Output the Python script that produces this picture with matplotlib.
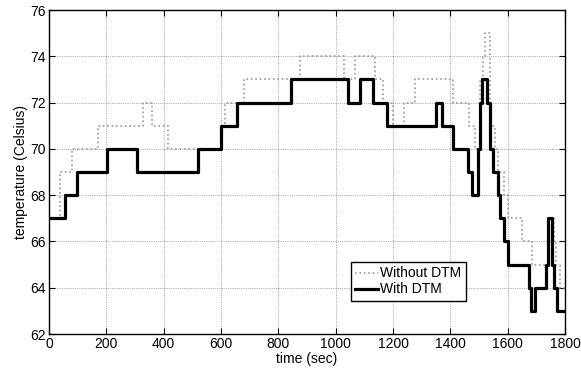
import numpy as np
import matplotlib.pyplot as plt

plt.rcParams['font.family'] = ['Liberation Sans', 'DejaVu Sans']

# step change times (sec) and temperatures (Celsius)
t_without = [0, 38, 79, 172, 329, 360, 414, 600, 614, 680, 875, 1029, 1069, 1137,
             1166, 1201, 1238, 1277, 1410, 1465, 1486, 1505, 1515, 1522, 1538, 1544,
             1556, 1567, 1587, 1602, 1651, 1684, 1742, 1760, 1768, 1782, 1800]
v_without = [67, 69, 70, 71, 72, 71, 70, 71, 72, 73, 74, 73, 74, 73,
             72, 71, 72, 73, 72, 71, 70, 73, 74, 75, 71, 71,
             70, 69, 68, 67, 66, 65, 67, 66, 65, 64, 64]

t_with = [0, 56, 97, 201, 306, 519, 601, 656, 845, 1044, 1085, 1130, 1179, 1349,
          1370, 1411, 1460, 1476, 1497, 1504, 1512, 1529, 1538, 1550, 1566, 1573,
          1587, 1602, 1674, 1681, 1697, 1733, 1742, 1756, 1762, 1771, 1800]
v_with = [67, 68, 69, 70, 69, 70, 71, 72, 73, 72, 73, 72, 71, 72,
          71, 70, 69, 68, 70, 72, 73, 72, 70, 69, 68, 67,
          66, 65, 64, 63, 64, 65, 67, 65, 64, 63, 63]

x_ticks = np.arange(0, 1801, 200)
y_ticks = np.arange(62, 77, 2)

fig = plt.figure(figsize=(5.81, 3.71), dpi=100)
ax = fig.add_axes([0.0843, 0.0997, 0.8882, 0.8733])

ax.plot(t_without, v_without, drawstyle='steps-post', color='0.6',
        linestyle=':', linewidth=1.2, label='Without DTM')
ax.plot(t_with, v_with, drawstyle='steps-post', color='k',
        linewidth=2.3, label='With DTM')

ax.set_xlim(0, 1800)
ax.set_ylim(62, 76)
ax.set_xticks(x_ticks)
ax.set_yticks(y_ticks)
ax.grid(True, color='k', linestyle=':', linewidth=0.5, alpha=0.6)
ax.tick_params(direction='in', top=True, right=True, length=4, labelsize=10, pad=2)
for s in ax.spines.values():
    s.set_linewidth(1.0)

ax.set_xlabel('time (sec)', fontsize=10, labelpad=1)
ax.set_ylabel('temperature (Celsius)', fontsize=10, labelpad=2)

leg = ax.legend(loc='lower right', bbox_to_anchor=(0.8075, 0.103), fontsize=10,
                handlelength=1.6, handletextpad=0.2, borderpad=0.3,
                labelspacing=0.15, borderaxespad=0, fancybox=False,
                edgecolor='k', framealpha=1)
leg.get_frame().set_linewidth(1.0)

fig.savefig('out.png', dpi=100)
